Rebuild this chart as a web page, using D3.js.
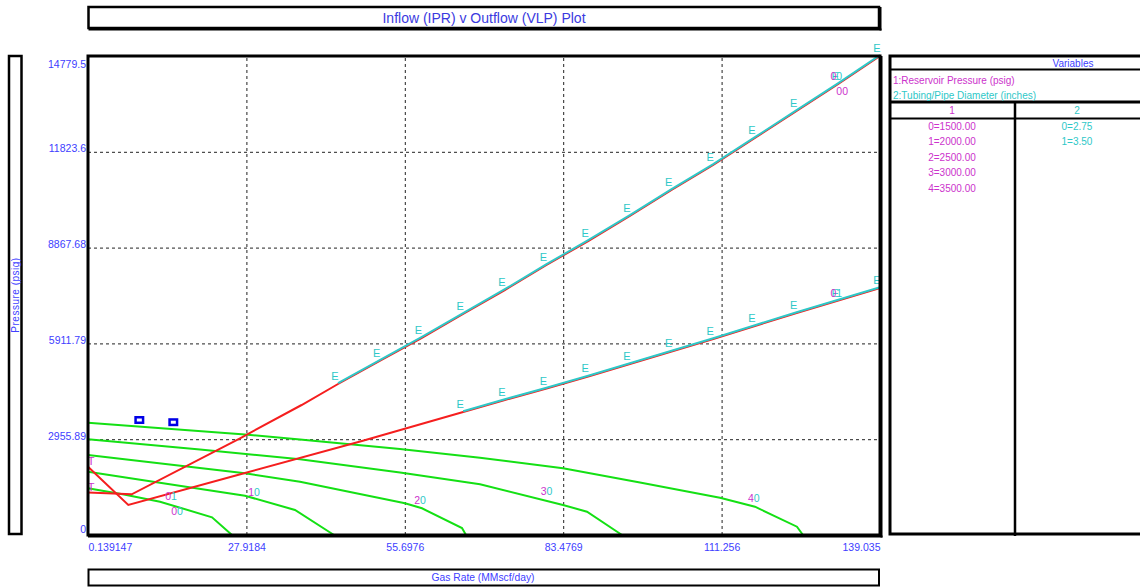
<!DOCTYPE html>
<html>
<head>
<meta charset="utf-8">
<script src="https://cdn.jsdelivr.net/npm/d3@7"></script>
<style>
  body { margin: 0; background: #fff; }
  svg { display: block; font-family: "Liberation Sans", Arial, sans-serif; }
</style>
</head>
<body>
<svg width="1140" height="587"></svg>
<script>
// Axis ticks
let xTicks = [0.139147, 27.9184, 55.6976, 83.4769, 111.256, 139.035];
let xTickLabels = ["0.139147", "27.9184", "55.6976", "83.4769", "111.256", "139.035"];
let yTicks = [0, 2955.89, 5911.79, 8867.68, 11823.6, 14779.5];
let yTickLabels = ["0", "2955.89", "5911.79", "8867.68", "11823.6", "14779.5"];

// Legend variables
let reservoirPressures = ["0=1500.00", "1=2000.00", "2=2500.00", "3=3000.00", "4=3500.00"];
let tubingDiameters = ["0=2.75", "1=3.50"];

// IPR curves [gas rate, pressure], one per reservoir pressure
let ipr1500 = [[0.139, 1441], [6.45, 1250], [12.77, 1028], [21.89, 546], [25.39, 0]];
let ipr2000 = [[0.139, 1953], [14.17, 1574], [27.67, 1213], [36.44, 771], [43.28, 0]];
let ipr2500 = [[0.139, 2468], [27.67, 1904], [37.32, 1645], [55.73, 978], [58.71, 824], [65.73, 216], [66.43, 0]];
let ipr3000 = [[0.139, 2953], [19.78, 2638], [37.32, 2336], [54.86, 1928], [68.89, 1564], [83.44, 926], [87.65, 719], [93.79, 0]];
let ipr3500 = [[0.139, 3465], [27.67, 3101], [37.32, 2947], [54.86, 2654], [68.88, 2385], [83.44, 2058],
               [96.94, 1620], [110.97, 1151], [117.11, 873], [124.47, 256], [125.53, 0]];

// VLP curves: low-rate part (red only)
let vlpLow275 = [[0.139, 1311], [7.80, 1256], [26.8, 2984], [37.6, 4011]];
let vlpLow350 = [[0.139, 2107], [7.21, 926], [27.67, 1913], [48.19, 2900]];

// VLP curves: calculated points (marked "E")
let rates275 = [43.99, 51.30, 58.62, 65.93, 73.24, 80.55, 87.86, 95.17, 102.48, 109.79, 117.10, 124.41, 131.72, 139.035];
let vlp275 = [4659, 5369, 6078, 6819, 7559, 8331, 9071, 9843, 10645, 11416, 12249, 13083, 13916, 14779.5];
let rates350 = [65.93, 73.24, 80.55, 87.86, 95.17, 102.48, 109.79, 117.10, 124.41, 131.72, 139.035];
let vlp350 = [3795, 4165, 4520, 4891, 5276, 5662, 6048, 6449, 6850, 7235, 7621];

// Test points
let testRates = [9.14, 15.1];
let testPressures = [3548, 3480];

// Curve labels: [rate, pressure, first digit, second digit, second digit is cyan]
let curveLabels = [
    [14.7, 1213, "0", "1", true],
    [15.75, 741, "0", "0", true],
    [29.25, 1342, "1", "0", true],
    [58.36, 1080, "2", "0", true],
    [80.55, 1358, "3", "0", true],
    [116.9, 1132, "4", "0", true],
    [131.37, 14162, "0", "0", true],
    [132.4, 13700, "0", "0", false],
    [131.37, 7482, "0", "1", true]
];

let magenta = "#cc33cc";
let cyan = "#2ec8c8";
let blue = "#4040ff";
let green = "#14e014";
let red = "#f51e1e";

let svg = d3.select("svg");
let plot = { left: 88, top: 56, right: 880, bottom: 535 };

let x = d3.scaleLinear().domain([xTicks[0], xTicks[5]]).range([plot.left, plot.right]);
let y = d3.scaleLinear().domain([yTicks[0], yTicks[5]]).range([plot.bottom, plot.top]);

function frame(x0, y0, x1, y1, sw, heavy) {
    let g = svg.append("g");
    g.append("rect")
        .attr("x", x0).attr("y", y0)
        .attr("width", x1 - x0).attr("height", y1 - y0)
        .attr("fill", "none").attr("stroke", "#000").attr("stroke-width", sw);
    if (heavy) {
        g.append("line").attr("x1", x1 + 1.5).attr("x2", x1 + 1.5).attr("y1", y0).attr("y2", y1 + 2.5)
            .attr("stroke", "#000").attr("stroke-width", 2);
        g.append("line").attr("x1", x0).attr("x2", x1 + 2.5).attr("y1", y1 + 1.5).attr("y2", y1 + 1.5)
            .attr("stroke", "#000").attr("stroke-width", 2);
    };
    return g;
};

// Title box
frame(88.5, 7, 879, 28, 2.5, true);
svg.append("text")
    .attr("x", 484).attr("y", 23)
    .attr("text-anchor", "middle")
    .attr("font-size", 14)
    .attr("fill", "#3a3ae0")
    .text("Inflow (IPR) v Outflow (VLP) Plot");

// Y title box
frame(9, 56, 21.5, 534, 2.5, false);
svg.append("text")
    .attr("transform", "translate(18.5,295) rotate(-90)")
    .attr("text-anchor", "middle")
    .attr("font-size", 10)
    .attr("letter-spacing", 0.5)
    .attr("fill", blue)
    .text("Pressure  (psig)");

// X title box
frame(88.5, 569.5, 879, 585.5, 2, false);
svg.append("text")
    .attr("x", 483).attr("y", 581)
    .attr("text-anchor", "middle")
    .attr("font-size", 10.3)
    .attr("fill", blue)
    .text("Gas Rate  (MMscf/day)");

// Grid
svg.append("g")
    .attr("transform", `translate(0,${plot.bottom})`)
    .call(d3.axisBottom(x).tickValues(xTicks.slice(1, -1)).tickSize(-(plot.bottom - plot.top)).tickFormat(""))
    .call(g => g.select(".domain").remove())
    .selectAll("line").attr("stroke", "#222").attr("stroke-dasharray", "3,3");
svg.append("g")
    .attr("transform", `translate(${plot.left},0)`)
    .call(d3.axisLeft(y).tickValues(yTicks.slice(1, -1)).tickSize(-(plot.right - plot.left)).tickFormat(""))
    .call(g => g.select(".domain").remove())
    .selectAll("line").attr("stroke", "#222").attr("stroke-dasharray", "3,3");

// Tick labels
let xAxis = svg.append("g")
    .attr("transform", `translate(0,${plot.bottom})`)
    .call(d3.axisBottom(x).tickValues(xTicks).tickFormat((d, i) => xTickLabels[i]).tickSize(0).tickPadding(8.5));
xAxis.select(".domain").remove();
xAxis.selectAll("text").attr("fill", blue).attr("font-size", 10.5).attr("font-family", null)
    .attr("text-anchor", (d, i) => i == 0 ? "start" : (i == xTicks.length - 1 ? "end" : "middle"));

let yAxis = svg.append("g")
    .attr("transform", `translate(${plot.left},0)`)
    .call(d3.axisLeft(y).tickValues(yTicks).tickFormat((d, i) => yTickLabels[i]).tickSize(0).tickPadding(2));
yAxis.select(".domain").remove();
yAxis.selectAll("text").attr("fill", blue).attr("font-size", 10.5).attr("font-family", null)
    .attr("dy", (d, i) => i == 0 ? -3 : (i == yTicks.length - 1 ? 11 : 0));

let line = d3.line().x(d => x(d[0])).y(d => y(d[1]));
let curves = svg.append("g").attr("fill", "none").attr("stroke-width", 2);

// IPR
[ipr1500, ipr2000, ipr2500, ipr3000, ipr3500].forEach(curve => {
    curves.append("path").attr("d", line(curve)).attr("stroke", green);
});

// VLP (red, full)
let vlp275Pts = rates275.map((q, i) => [q, vlp275[i]]);
let vlp350Pts = rates350.map((q, i) => [q, vlp350[i]]);
curves.append("path").attr("d", line(vlpLow275.concat(vlp275Pts))).attr("stroke", red);
curves.append("path").attr("d", line(vlpLow350.concat(vlp350Pts))).attr("stroke", red);

// VLP calculated points (cyan overlay)
curves.append("path").attr("d", line(vlp275Pts)).attr("stroke", cyan).attr("transform", "translate(0,-0.8)");
curves.append("path").attr("d", line(vlp350Pts)).attr("stroke", cyan).attr("transform", "translate(0,-0.8)");

let marks = svg.append("g").attr("font-size", 11).attr("text-anchor", "middle");
vlp275Pts.concat(vlp350Pts).forEach(d => {
    marks.append("text").attr("x", x(d[0]) - 3).attr("y", y(d[1]) - 4).attr("fill", cyan).text("E");
});

// T markers at start of each VLP curve
[vlpLow275[0], vlpLow350[0]].forEach(d => {
    marks.append("text").attr("x", x(d[0]) + 3).attr("y", y(d[1]) - 1.5).attr("fill", magenta).text("T");
});

// Curve labels
curveLabels.forEach(d => {
    let t = marks.append("text").attr("x", x(d[0])).attr("y", y(d[1]) + 4).attr("font-size", 10.5);
    t.append("tspan").attr("fill", magenta).text(d[2]);
    t.append("tspan").attr("fill", d[4] ? cyan : magenta).text(d[3]);
});

// Test points
testRates.forEach((q, i) => {
    svg.append("rect")
        .attr("x", x(q) - 3.75).attr("y", y(testPressures[i]) - 2.75)
        .attr("width", 7.5).attr("height", 5.5)
        .attr("fill", "#fff").attr("stroke", "#0000e6").attr("stroke-width", 2.5);
});

// Plot frame
frame(plot.left, plot.top, plot.right, plot.bottom, 3, true);

// Legend panel
let legend = svg.append("g");
legend.append("rect").attr("x", 890).attr("y", 56).attr("width", 260).attr("height", 478)
    .attr("fill", "none").attr("stroke", "#000").attr("stroke-width", 3);
legend.append("line").attr("x1", 890).attr("x2", 1140).attr("y1", 69.5).attr("y2", 69.5).attr("stroke", "#000").attr("stroke-width", 2);
legend.append("line").attr("x1", 890).attr("x2", 1140).attr("y1", 102).attr("y2", 102).attr("stroke", "#000").attr("stroke-width", 3);
legend.append("line").attr("x1", 890).attr("x2", 1140).attr("y1", 118.5).attr("y2", 118.5).attr("stroke", "#000").attr("stroke-width", 2);
legend.append("line").attr("x1", 1015).attr("x2", 1015).attr("y1", 102).attr("y2", 536).attr("stroke", "#000").attr("stroke-width", 2.5);

let lt = legend.append("g").attr("font-size", 10);
lt.append("text").attr("x", 1073).attr("y", 67).attr("text-anchor", "middle").attr("fill", blue).text("Variables");
lt.append("text").attr("x", 893).attr("y", 83.5).attr("fill", magenta).text("1:Reservoir Pressure (psig)");
lt.append("text").attr("x", 893).attr("y", 98.5).attr("fill", cyan).text("2:Tubing/Pipe Diameter (inches)");
lt.append("text").attr("x", 952).attr("y", 114).attr("text-anchor", "middle").attr("fill", magenta).text("1");
lt.append("text").attr("x", 1077).attr("y", 114).attr("text-anchor", "middle").attr("fill", cyan).text("2");
reservoirPressures.forEach((s, i) => {
    lt.append("text").attr("x", 952).attr("y", 130 + i * 15.4).attr("text-anchor", "middle").attr("fill", magenta).text(s);
});
tubingDiameters.forEach((s, i) => {
    lt.append("text").attr("x", 1077).attr("y", 130 + i * 15.4).attr("text-anchor", "middle").attr("fill", cyan).text(s);
});
</script>
</body>
</html>
